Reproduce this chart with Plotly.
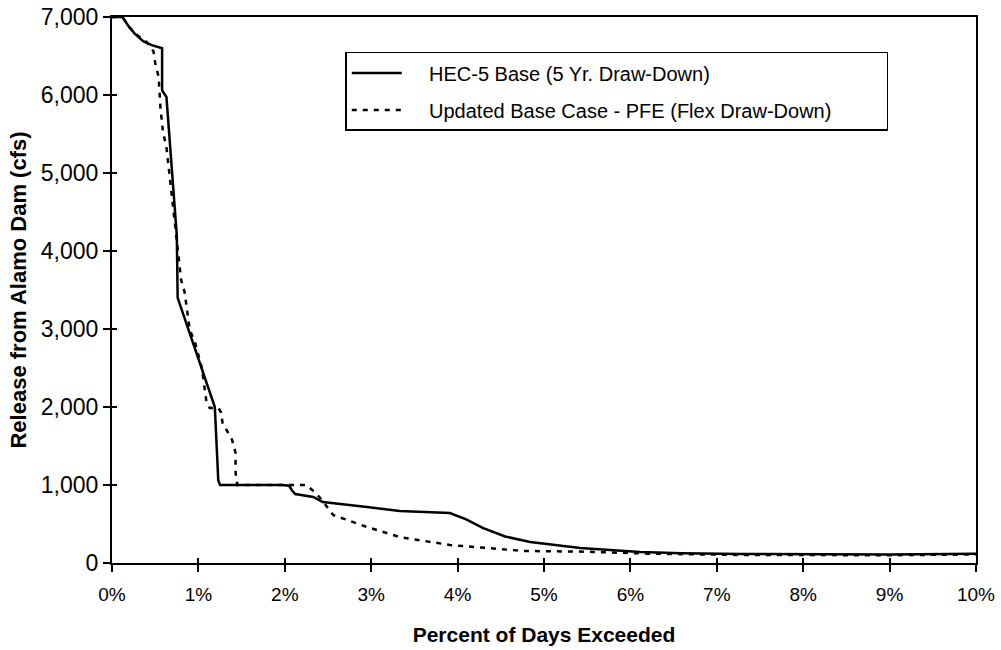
import plotly.graph_objects as go

# Percent of days exceeded (in %) and release (cfs)
hec_pct = [0.00, 0.12, 0.20, 0.26, 0.36, 0.46, 0.58, 0.58, 0.63, 0.75, 0.76, 1.19, 1.23, 1.25,
           1.97, 2.05, 2.08, 2.12, 2.33, 2.44, 2.95, 3.33, 3.91, 4.10, 4.29, 4.55, 4.84, 5.10,
           5.42, 6.11, 6.60, 7.27, 8.00, 9.00, 10.00]
hec_cfs = [7000, 7000, 6870, 6790, 6690, 6640, 6600, 6060, 5975, 4200, 3400, 2000, 1060, 1000,
           1000, 990, 936, 885, 846, 782, 718, 667, 640, 560, 449, 340, 270, 235,
           192, 141, 125, 115, 110, 110, 120]

pfe_pct = [0.00, 0.12, 0.20, 0.30, 0.40, 0.48, 0.50, 0.54, 0.56, 0.59, 0.63, 0.70, 0.76, 0.80,
           0.84, 0.90, 0.96, 1.04, 1.09, 1.13, 1.23, 1.26, 1.28, 1.39, 1.43, 1.43, 1.45, 2.00,
           2.25, 2.35, 2.43, 2.56, 2.75, 2.95, 3.33, 3.91, 4.49, 4.76, 5.50, 6.20, 7.27, 8.00,
           9.00, 10.00]
pfe_cfs = [7000, 7000, 6870, 6760, 6680, 6560, 6410, 6230, 5846, 5525, 5333, 4600, 4000, 3630,
           3474, 2987, 2833, 2500, 2090, 1987, 1990, 1936, 1795, 1577, 1410, 1166, 1000, 1000,
           1000, 905, 808, 615, 540, 462, 333, 231, 179, 154, 145, 120, 103, 100,
           100, 110]

x_ticks = [0, 1, 2, 3, 4, 5, 6, 7, 8, 9, 10]
x_tick_labels = ["0%", "1%", "2%", "3%", "4%", "5%", "6%", "7%", "8%", "9%", "10%"]
y_ticks = [0, 1000, 2000, 3000, 4000, 5000, 6000, 7000]
y_tick_labels = ["0", "1,000", "2,000", "3,000", "4,000", "5,000", "6,000", "7,000"]

FONT = "Liberation Sans, Arial, sans-serif"
LEAD = "\u00a0" * 4
PAD = "\u00a0" * 9

fig = go.Figure()
fig.add_trace(go.Scatter(x=hec_pct, y=hec_cfs, mode="lines",
                         name=LEAD + "HEC-5 Base (5 Yr. Draw-Down)",
                         legendgroup="a",
                         line=dict(color="black", width=2.5)))
fig.add_trace(go.Scatter(x=pfe_pct, y=pfe_cfs, mode="lines",
                         name=LEAD + "Updated Base Case - PFE (Flex Draw-Down)" + PAD,
                         legendgroup="b",
                         line=dict(color="black", width=2.5, dash="5px,6px")))
# invisible trace to host overlay axes (inside tick marks)
fig.add_trace(go.Scatter(x=[0], y=[0], xaxis="x2", yaxis="y2", mode="markers",
                         marker=dict(opacity=0), showlegend=False, hoverinfo="skip"))

fig.update_layout(
    width=1001, height=650,
    paper_bgcolor="white", plot_bgcolor="white",
    margin=dict(l=112, r=25, t=17, b=87),
    font=dict(family=FONT, color="black", size=20),
    showlegend=True,
    legend=dict(x=0.27, y=0.936, xanchor="left", yanchor="top",
                bordercolor="black", borderwidth=1.5, bgcolor="white",
                font=dict(family=FONT, size=20, color="black"),
                tracegroupgap=8, itemwidth=50),
    xaxis=dict(range=[0, 10], tickvals=x_ticks, ticktext=x_tick_labels, automargin=False,
               showgrid=False, zeroline=False, showline=True, linecolor="black", linewidth=2,
               mirror=True, ticks="outside", ticklen=7, tickwidth=1.5, tickcolor="black",
               tickfont=dict(family=FONT, size=19), ticklabelstandoff=6,
               ticklabeloverflow="allow",
               title=dict(text="<b>Percent of Days Exceeded</b>",
                          font=dict(family=FONT, size=21), standoff=24)),
    yaxis=dict(range=[0, 7000], tickvals=y_ticks, ticktext=y_tick_labels, automargin=False,
               showgrid=False, zeroline=False, showline=True, linecolor="black", linewidth=2,
               mirror=True, ticks="outside", ticklen=7, tickwidth=1.5, tickcolor="black",
               tickfont=dict(family=FONT, size=23), ticklabeloverflow="allow",
               title=dict(text="<b>Release from Alamo Dam (cfs)</b>",
                          font=dict(family=FONT, size=22), standoff=8)),
    xaxis2=dict(range=[0, 10], overlaying="x", tickvals=x_ticks, showticklabels=False,
                ticks="inside", ticklen=5, tickwidth=1.5, tickcolor="black", automargin=False,
                showgrid=False, zeroline=False, showline=False),
    yaxis2=dict(range=[0, 7000], overlaying="y", tickvals=y_ticks, showticklabels=False,
                ticks="inside", ticklen=5, tickwidth=1.5, tickcolor="black", automargin=False,
                showgrid=False, zeroline=False, showline=False),
)

fig.write_html("out.html", config={"displayModeBar": False},
               post_script="document.body.style.margin='0';document.body.style.overflow='hidden';")
